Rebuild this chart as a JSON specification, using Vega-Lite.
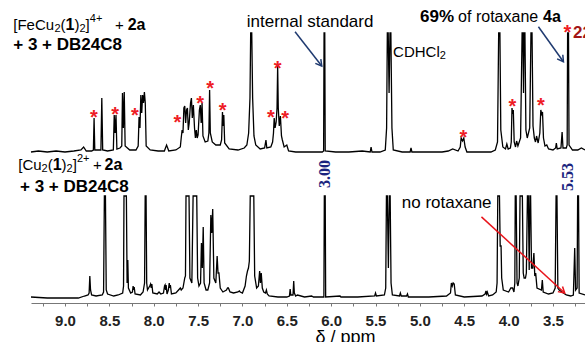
{
"$schema": "https://vega.github.io/schema/vega-lite/v6.json",
"width": 554, "height": 303,
"autosize": {"type": "none"},
"padding": {"left": 31, "top": 0, "right": 0, "bottom": 39},
"background": "white",
"config": {"view": {"stroke": null}, "font": "Liberation Sans"},
"datasets": {
"top": [
[9.383,146],[9.3,147],[9.2,146],[9.1,147],[9.0,146],[8.9,147],[8.82,148],[8.79,151],[8.76,147],[8.70,147],[8.68,148],[8.672,180],[8.664,148],[8.62,148],[8.595,148],[8.585,200],[8.575,148],[8.52,147],[8.455,148],[8.445,183],[8.435,165],[8.425,183],[8.415,149],[8.38,150],[8.36,152],[8.352,205],[8.342,170],[8.332,206],[8.322,152],[8.27,148],[8.20,148],[8.175,152],[8.165,181],[8.155,170],[8.145,203],[8.135,185],[8.125,203],[8.115,195],[8.105,206],[8.095,195],[8.085,152],[8.04,148],[7.95,147],[7.88,147],[7.855,153],[7.83,147],[7.75,148],[7.70,151],[7.69,160],[7.68,168],[7.67,165],[7.66,190],[7.65,192],[7.64,175],[7.63,188],[7.62,190],[7.61,168],[7.60,175],[7.585,195],[7.575,200],[7.565,180],[7.553,193],[7.54,170],[7.53,160],[7.52,168],[7.51,160],[7.50,163],[7.485,188],[7.475,193],[7.465,175],[7.455,195],[7.445,162],[7.42,156],[7.39,157],[7.378,165],[7.37,208],[7.362,165],[7.34,156],[7.30,153],[7.25,153],[7.235,158],[7.225,186],[7.218,172],[7.21,183],[7.20,155],[7.15,149],[7.05,148],[6.98,150],[6.95,153],[6.93,165],[6.915,200],[6.907,265],[6.895,265],[6.885,200],[6.87,162],[6.85,153],[6.80,149],[6.75,150],[6.735,158],[6.725,150],[6.68,151],[6.66,156],[6.65,165],[6.642,180],[6.632,170],[6.62,176],[6.61,190],[6.603,232],[6.596,190],[6.585,172],[6.572,182],[6.56,162],[6.55,158],[6.53,151],[6.50,153],[6.48,147],[6.40,146],[6.25,146],[6.10,146],[6.085,147],[6.08,265],[6.072,265],[6.067,147],[5.95,146],[5.80,146],[5.65,147],[5.56,146],[5.55,151],[5.54,146],[5.45,146],[5.39,148],[5.375,170],[5.367,265],[5.357,265],[5.347,205],[5.337,265],[5.327,265],[5.315,170],[5.30,148],[5.20,146],[5.11,146],[5.10,150],[5.09,146],[4.90,146],[4.75,146],[4.68,147],[4.63,149],[4.57,147],[4.545,151],[4.535,160],[4.52,157],[4.505,160],[4.49,151],[4.47,146],[4.30,146],[4.20,146],[4.15,148],[4.125,156],[4.112,265],[4.098,265],[4.088,168],[4.065,151],[4.035,149],[4.02,154],[4.005,149],[3.98,150],[3.97,156],[3.962,190],[3.955,184],[3.947,188],[3.937,156],[3.922,151],[3.91,157],[3.895,152],[3.865,160],[3.848,265],[3.838,265],[3.832,205],[3.826,265],[3.816,265],[3.805,168],[3.79,160],[3.762,170],[3.748,265],[3.736,265],[3.725,172],[3.71,160],[3.697,156],[3.685,162],[3.667,155],[3.648,165],[3.637,188],[3.628,184],[3.618,186],[3.607,160],[3.59,152],[3.57,153],[3.55,149],[3.50,148],[3.47,150],[3.462,155],[3.452,149],[3.41,150],[3.397,166],[3.387,150],[3.35,150],[3.34,153],[3.335,265],[3.325,265],[3.319,153],[3.28,148],[3.22,148],[3.18,150],[3.139,148]
],
"bottom": [
[9.383,1],[9.2,0],[9.0,0],[8.85,0],[8.78,2],[8.74,3],[8.728,5],[8.72,22],[8.712,8],[8.70,3],[8.65,2],[8.58,3],[8.565,6],[8.556,102],[8.544,102],[8.535,8],[8.52,4],[8.45,2],[8.40,3],[8.35,5],[8.34,12],[8.335,102],[8.325,102],[8.318,102],[8.308,102],[8.30,15],[8.292,38],[8.285,10],[8.26,5],[8.24,6],[8.232,12],[8.226,8],[8.22,11],[8.21,4],[8.15,3],[8.12,6],[8.103,15],[8.096,102],[8.086,102],[8.079,15],[8.07,8],[8.045,12],[8.035,14],[8.028,10],[8.021,14],[8.01,5],[7.96,4],[7.94,6],[7.92,4],[7.89,5],[7.878,12],[7.872,13],[7.866,8],[7.86,13],[7.85,4],[7.835,8],[7.825,15],[7.818,10],[7.812,13],[7.80,4],[7.75,5],[7.72,8],[7.70,10],[7.69,8],[7.67,10],[7.65,20],[7.642,22],[7.636,102],[7.627,102],[7.611,102],[7.602,102],[7.592,20],[7.57,15],[7.556,102],[7.547,102],[7.524,102],[7.515,102],[7.505,20],[7.49,12],[7.472,15],[7.462,55],[7.452,30],[7.442,71],[7.432,15],[7.41,8],[7.39,8],[7.37,15],[7.356,83],[7.346,65],[7.335,89],[7.322,20],[7.30,15],[7.285,42],[7.275,25],[7.265,25],[7.25,10],[7.22,6],[7.18,8],[7.168,10],[7.158,10],[7.14,6],[7.10,5],[7.05,6],[7.035,7],[7.025,6],[7.00,5],[6.97,12],[6.955,22],[6.943,27],[6.932,30],[6.922,37],[6.912,102],[6.898,102],[6.882,102],[6.872,102],[6.862,22],[6.84,10],[6.82,12],[6.806,27],[6.797,15],[6.788,25],[6.776,10],[6.76,6],[6.74,5],[6.73,8],[6.72,4],[6.70,2],[6.60,1],[6.50,1],[6.47,2],[6.462,9],[6.455,3],[6.43,3],[6.422,17],[6.415,5],[6.40,2],[6.38,3],[6.30,1],[6.22,2],[6.20,1],[6.10,1],[6.082,1],[6.077,102],[6.067,102],[6.062,1],[5.90,2],[5.89,1],[5.70,1],[5.51,2],[5.50,5],[5.49,2],[5.40,3],[5.385,10],[5.377,102],[5.367,102],[5.355,30],[5.345,102],[5.335,102],[5.325,15],[5.31,3],[5.23,2],[5.22,5],[5.21,2],[5.15,2],[5.14,4],[5.13,1],[4.90,1],[4.70,2],[4.655,5],[4.645,15],[4.635,12],[4.625,15],[4.613,14],[4.60,3],[4.50,1],[4.30,2],[4.265,4],[4.255,7],[4.248,4],[4.24,6],[4.225,2],[4.18,3],[4.14,6],[4.13,15],[4.122,102],[4.112,102],[4.103,102],[4.095,52],[4.085,52],[4.078,20],[4.06,8],[4.00,6],[3.975,10],[3.965,10],[3.955,10],[3.94,6],[3.93,15],[3.925,102],[3.915,102],[3.905,15],[3.895,12],[3.88,20],[3.871,102],[3.862,102],[3.853,102],[3.845,102],[3.835,25],[3.825,20],[3.81,20],[3.80,25],[3.788,102],[3.778,102],[3.768,28],[3.76,102],[3.752,102],[3.742,30],[3.728,30],[3.715,45],[3.705,22],[3.695,25],[3.68,10],[3.63,8],[3.62,18],[3.61,6],[3.55,4],[3.50,5],[3.475,10],[3.465,102],[3.455,102],[3.445,10],[3.43,8],[3.40,6],[3.35,3],[3.30,2],[3.27,3],[3.255,50],[3.245,8],[3.228,10],[3.222,102],[3.212,102],[3.205,5],[3.139,3]
]
},
"encoding": {
  "x": {"field": "ppm", "type": "quantitative",
        "scale": {"domain": [3.139, 9.383], "reverse": true, "nice": false, "zero": false},
        "axis": {"title": "δ / ppm", "values": [9.25,9,8.75,8.5,8.25,8,7.75,7.5,7.25,7,6.75,6.5,6.25,6,5.75,5.5,5.25,5,4.75,4.5,4.25,4,3.75,3.5,3.25],
                 "labelExpr": "(datum.value * 4) % 2 == 0 ? format(datum.value, '.1f') : ''",
                 "grid": false, "domainColor": "#777", "tickColor": "#777", "tickSize": 3, "domainWidth": 1.2,
                 "labelPadding": 7, "labelFontSize": 15, "labelFontWeight": "bold", "labelColor": "#222",
                 "labelFlush": false, "labelOverlap": false,
                 "titleFontSize": 18, "titleFontWeight": "normal", "titleColor": "#000",
                 "titleX": 284, "titleY": 39, "titleAlign": "left", "titleBaseline": "alphabetic"}},
  "y": {"field": "s", "type": "quantitative", "scale": {"domain": [-5, 298], "nice": false, "zero": false}, "axis": null}
},
"layer": [
  {"data": {"name": "top"}, "transform": [{"calculate": "datum[0]", "as": "ppm"}, {"calculate": "datum[1]", "as": "s"}],
   "mark": {"type": "line", "color": "#000", "strokeWidth": 1.3}},
  {"data": {"name": "bottom"}, "transform": [{"calculate": "datum[0]", "as": "ppm"}, {"calculate": "datum[1]", "as": "s"}],
   "mark": {"type": "line", "color": "#000", "strokeWidth": 1.3}},
  {"data": {"values": [
     {"t": "[FeCu", "ppm": 9.5829, "s": 273},
     {"t": "(", "ppm": 9.0496, "s": 273},
     {"t": ")", "ppm": 8.8929, "s": 273},
     {"t": "]", "ppm": 8.7678, "s": 273},
     {"t": "+", "ppm": 8.4363, "s": 273},
     {"t": "[Cu", "ppm": 9.5265, "s": 133},
     {"t": "(", "ppm": 9.195, "s": 133},
     {"t": ")", "ppm": 9.0383, "s": 133},
     {"t": "]", "ppm": 8.9132, "s": 133},
     {"t": "+", "ppm": 8.6843, "s": 133},
     {"t": "CDHCl", "ppm": 5.302, "s": 246.3}
   ]},
   "mark": {"type": "text", "align": "left", "baseline": "middle", "fontSize": 15, "color": "#000"},
   "encoding": {"text": {"field": "t"}}},
  {"data": {"values": [
     {"t": "2", "ppm": 9.1184, "s": 269},
     {"t": "2", "ppm": 8.8365, "s": 269},
     {"t": "4+", "ppm": 8.7204, "s": 279},
     {"t": "2", "ppm": 9.2638, "s": 129},
     {"t": "2", "ppm": 8.982, "s": 129},
     {"t": "2+", "ppm": 8.8658, "s": 139},
     {"t": "2", "ppm": 4.7756, "s": 242.3}
   ]},
   "mark": {"type": "text", "align": "left", "baseline": "middle", "fontSize": 11, "color": "#000"},
   "encoding": {"text": {"field": "t"}}},
  {"data": {"values": [
     {"t": "internal standard", "ppm": 6.951, "s": 276},
     {"t": "no rotaxane", "ppm": 5.204, "s": 95}
   ]},
   "mark": {"type": "text", "align": "left", "baseline": "middle", "fontSize": 17, "color": "#000"},
   "encoding": {"text": {"field": "t"}}},
  {"data": {"values": [{"t": "of rotaxane", "ppm": 4.569, "s": 281.3}]},
   "mark": {"type": "text", "align": "left", "baseline": "middle", "fontSize": 16, "color": "#000"},
   "encoding": {"text": {"field": "t"}}},
  {"data": {"values": [
     {"t": "1", "ppm": 8.9932, "s": 273},
     {"t": "2a", "ppm": 8.2931, "s": 273},
     {"t": "1", "ppm": 9.1387, "s": 133},
     {"t": "2a", "ppm": 8.5547, "s": 133},
     {"t": "4a", "ppm": 3.611, "s": 281.3}
   ]},
   "mark": {"type": "text", "align": "left", "baseline": "middle", "fontSize": 16, "fontWeight": "bold", "color": "#000"},
   "encoding": {"text": {"field": "t"}}},
  {"data": {"values": [
     {"t": "+ 3 + DB24C8", "ppm": 9.583, "s": 253},
     {"t": "+ 3 + DB24C8", "ppm": 9.507, "s": 111},
     {"t": "69%", "ppm": 4.998, "s": 281.3}
   ]},
   "mark": {"type": "text", "align": "left", "baseline": "middle", "fontSize": 17, "fontWeight": "bold", "color": "#000"},
   "encoding": {"text": {"field": "t"}}},
  {"data": {"values": [{"t": "22%", "ppm": 3.273, "s": 264.7}]},
   "mark": {"type": "text", "align": "left", "baseline": "middle", "fontSize": 17, "fontWeight": "bold", "color": "#a31515"},
   "encoding": {"text": {"field": "t"}}},
  {"data": {"values": [
     {"ppm": 8.673, "s": 184.7}, {"ppm": 8.436, "s": 188}, {"ppm": 8.211, "s": 187}, {"ppm": 7.734, "s": 179.7},
     {"ppm": 7.478, "s": 199}, {"ppm": 7.365, "s": 214}, {"ppm": 7.222, "s": 192}, {"ppm": 6.678, "s": 184.7},
     {"ppm": 6.602, "s": 234}, {"ppm": 6.52, "s": 183.7}, {"ppm": 4.51, "s": 165.3}, {"ppm": 3.957, "s": 196.3},
     {"ppm": 3.637, "s": 197.3}, {"ppm": 3.337, "s": 270}
   ]},
   "mark": {"type": "text", "text": "*", "align": "center", "baseline": "middle", "dy": 5, "fontSize": 20, "fontWeight": "bold", "color": "#ee1c25"}},
  {"data": {"values": [{"t": "3.00", "ppm": 6.069, "s": 124}, {"t": "5.53", "ppm": 3.329, "s": 121}]},
   "mark": {"type": "text", "angle": 270, "align": "center", "baseline": "middle", "font": "Liberation Serif", "fontSize": 16, "fontWeight": "bold", "color": "#1a237e"},
   "encoding": {"text": {"field": "t"}}},
  {"data": {"values": [{"ppm": 6.407, "s": 266.3, "ppm2": 6.106, "s2": 232}, {"ppm": 3.664, "s": 271.3, "ppm2": 3.382, "s2": 236.3}]},
   "mark": {"type": "rule", "color": "#1f3a70", "strokeWidth": 1.5},
   "encoding": {"x2": {"field": "ppm2"}, "y2": {"field": "s2"}}},
  {"data": {"values": [{"ppm": 4.306, "s": 81.1, "ppm2": 3.368, "s2": 5}]},
   "mark": {"type": "rule", "color": "#e8141b", "strokeWidth": 1.5},
   "encoding": {"x2": {"field": "ppm2"}, "y2": {"field": "s2"}}},
  {"data": {"values": [{"ppm": 6.106, "s": 232}]},
   "mark": {"type": "point", "shape": "M-0.7,1.2L0,0L0.7,1.2", "filled": false, "size": 100, "angle": 142, "color": "#1f3a70", "strokeWidth": 1.5, "opacity": 1}},
  {"data": {"values": [{"ppm": 3.382, "s": 236.3}]},
   "mark": {"type": "point", "shape": "M-0.7,1.2L0,0L0.7,1.2", "filled": false, "size": 100, "angle": 144.5, "color": "#1f3a70", "strokeWidth": 1.5, "opacity": 1}},
  {"data": {"values": [{"ppm": 3.368, "s": 5}]},
   "mark": {"type": "point", "shape": "M-0.7,1.2L0,0L0.7,1.2", "filled": false, "size": 100, "angle": 131.6, "color": "#e8141b", "strokeWidth": 1.5, "opacity": 1}}
]
}
